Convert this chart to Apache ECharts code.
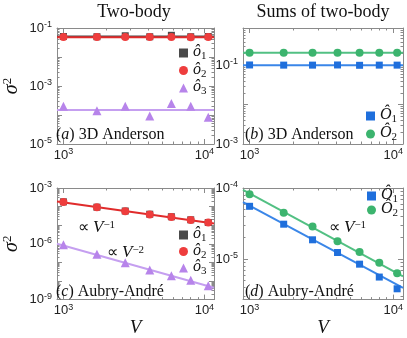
<!DOCTYPE html>
<html><head><meta charset="utf-8">
<script src="https://cdn.jsdelivr.net/npm/echarts@6/dist/echarts.min.js"></script>
<style>html,body{margin:0;padding:0;background:#fff}#c{width:407px;height:338px}</style>
</head><body><div id="c"></div>
<script>
// ---- data ----
const V = [1000, 1728, 2744, 4096, 5832, 8000, 10648];
const fitV = [900, 11700];
// (a) 3D Anderson, two-body
const a_o1 = [0.051, 0.050, 0.054, 0.050, 0.056, 0.050, 0.051];
const a_o2 = [0.049, 0.049, 0.049, 0.049, 0.049, 0.048, 0.049];
const a_o3 = [2.0e-4, 1.4e-4, 2.0e-4, 9.3e-5, 2.5e-4, 2.0e-4, 8.3e-5];
const a_fit1 = [0.051, 0.051];
const a_fit2 = [0.048, 0.048];
const a_fit3 = [1.48e-4, 1.48e-4];
// (b) 3D Anderson, sums of two-body
const b_O1 = [0.103, 0.102, 0.102, 0.103, 0.101, 0.102, 0.102];
const b_O2 = [0.212, 0.212, 0.210, 0.212, 0.212, 0.211, 0.211];
const b_fit1 = [0.102, 0.102];
const b_fit2 = [0.211, 0.211];
// (c) Aubry-André, two-body
const c_o1 = [1.8e-4, 9.3e-5, 5.8e-5, 3.9e-5, 2.85e-5, 1.95e-5, 1.4e-5];
const c_o2 = [1.78e-4, 9.1e-5, 5.6e-5, 3.8e-5, 2.75e-5, 1.9e-5, 1.38e-5];
const c_o3 = [8.9e-7, 2.75e-7, 9.6e-8, 3.9e-8, 1.9e-8, 1.1e-8, 5.6e-9];
const c_fit2 = [1.9e-4, 1.23e-5];
const c_fit3 = [1.0e-6, 4.3e-9];
// (d) Aubry-André, sums of two-body
const d_O1 = [5.53e-5, 3.1e-5, 1.87e-5, 1.24e-5, 8.5e-6, 5.6e-6, 3.83e-6];
const d_O2 = [8.2e-5, 4.49e-5, 2.88e-5, 1.79e-5, 1.26e-5, 8.9e-6, 6.35e-6];
const d_fit1 = [6.35e-5, 3.95e-6];
const d_fit2 = [9.4e-5, 5.73e-6];
// axis ranges
const xRange = [900, 11700];
const yRanges = [[1e-5, 0.1], [1e-3, 0.9], [1e-9, 1e-3], [2.7e-6, 1e-4]];
const yLabelRule = [[-1, 2], [-1, 2], [-3, 3], [0, 1]]; // [base, step]

// ---- styling ----
const C = {gray:'#4a4a4a', red:'#ee3d3d', redL:'#e02b2b', pur:'#b784ea', purL:'#c59ff0',
           blue:'#1f6fdc', blueL:'#3a86e8', green:'#3cb46e', greenL:'#52c083', frame:'#8a8a8a'};
const serif = 'Liberation Serif';
const sans = 'Liberation Sans';
const grids = [
  {left:54, top:28, width:160, height:116},
  {left:243, top:28, width:160, height:116},
  {left:54, top:188, width:160, height:114},
  {left:243, top:188, width:160, height:114}
];
const tickRich = {
  b:{fontSize:13, fontFamily:sans, color:'#222', lineHeight:16},
  s:{fontSize:9, fontFamily:sans, color:'#222', verticalAlign:'top', lineHeight:16}
};
function powFmt(base, step){
  return function(v){
    const e = Math.log10(v), r = Math.round(e);
    if (Math.abs(e - r) > 1e-6) return '';
    if ((((r - base) % step) + step) % step !== 0) return '';
    return '{b|10}{s|' + (r < 0 ? '-' + (-r) : r) + '}';
  };
}
// minor tick positions (2..9 x 10^n) inside a range
function minorVals(min, max){
  const out = [];
  for (let e = Math.floor(Math.log10(min)); e <= Math.ceil(Math.log10(max)); e++){
    for (let k = 2; k <= 9; k++){
      const v = k * Math.pow(10, e);
      if (v > min && v < max) out.push(v);
    }
  }
  return out;
}
const line = {lineStyle:{color:C.frame, width:1}};
function axisMajor(g, min, max, pos, showLabel, fmt){
  return {
    type:'log', logBase:10, gridIndex:g, min:min, max:max, position:pos,
    axisLine:line,
    axisTick:{show:true, inside:true, length:5, lineStyle:{color:C.frame}},
    splitLine:{show:false},
    axisLabel:{show:showLabel, formatter:fmt, rich:tickRich, margin:5, hideOverlap:false}
  };
}
function axisMinor(g, min, max, pos){
  return {
    type:'log', logBase:10, gridIndex:g, min:min, max:max, position:pos,
    axisLine:{show:false},
    axisTick:{show:true, inside:true, length:2.5, lineStyle:{color:C.frame}, customValues:minorVals(min, max)},
    splitLine:{show:false},
    axisLabel:{show:false}
  };
}
const xAxis = [], yAxis = [];
for (let g = 0; g < 4; g++){
  const xa = axisMajor(g, xRange[0], xRange[1], 'bottom', true, powFmt(0, 1));
  xa.axisLabel.margin = 3;
  if (g >= 2){
    xa.name = 'V'; xa.nameLocation = 'middle'; xa.nameGap = 8;
    xa.nameTextStyle = {fontFamily:serif, fontStyle:'italic', fontSize:19, color:'#111'};
  }
  xAxis.push(xa);
  const ya = axisMajor(g, yRanges[g][0], yRanges[g][1], 'left', true, powFmt(yLabelRule[g][0], yLabelRule[g][1]));
  if (g === 0 || g === 2){
    ya.name = '{s|σ}{p|2}'; ya.nameLocation = 'middle'; ya.nameGap = 34; ya.nameRotate = 90;
    ya.nameTextStyle = {rich:{
      s:{fontFamily:serif, fontStyle:'italic', fontSize:20, color:'#111', lineHeight:22},
      p:{fontFamily:serif, fontSize:13, color:'#111', verticalAlign:'top', lineHeight:22}
    }};
  }
  yAxis.push(ya);
}
// mirrored frame axes and minor ticks (after the primary ones so indices 0..3 stay primary)
for (let g = 0; g < 4; g++){
  xAxis.push(axisMajor(g, xRange[0], xRange[1], 'top', false));
  xAxis.push(axisMinor(g, xRange[0], xRange[1], 'bottom'));
  xAxis.push(axisMinor(g, xRange[0], xRange[1], 'top'));
  yAxis.push(axisMajor(g, yRanges[g][0], yRanges[g][1], 'right', false));
  yAxis.push(axisMinor(g, yRanges[g][0], yRanges[g][1], 'left'));
  yAxis.push(axisMinor(g, yRanges[g][0], yRanges[g][1], 'right'));
}

function pts(arr){ return V.map((v, i) => [v, arr[i]]); }
function fit(arr){ return fitV.map((v, i) => [v, arr[i]]); }
function sc(name, g, arr, symbol, size, color){
  return {name, type:'scatter', xAxisIndex:g, yAxisIndex:g, data:pts(arr),
          symbol, symbolSize:size, itemStyle:{color, opacity:1}, z:5, silent:true};
}
function ln(name, g, arr, color){
  return {name, type:'line', xAxisIndex:g, yAxisIndex:g, data:fit(arr), showSymbol:false,
          symbol:'none', lineStyle:{color, width:2}, z:3, silent:true};
}
const series = [
  ln('fa1', 0, a_fit1, C.gray), ln('fa2', 0, a_fit2, C.redL), ln('fa3', 0, a_fit3, C.purL),
  sc('a1', 0, a_o1, 'rect', 7, C.gray), sc('a2', 0, a_o2, 'circle', 8, C.red), sc('a3', 0, a_o3, 'triangle', 9, C.pur),
  ln('fb1', 1, b_fit1, C.blueL), ln('fb2', 1, b_fit2, C.greenL),
  sc('b1', 1, b_O1, 'rect', 7, C.blue), sc('b2', 1, b_O2, 'circle', 8, C.green),
  ln('fc2', 2, c_fit2, C.redL), ln('fc3', 2, c_fit3, C.purL),
  sc('c1', 2, c_o1, 'rect', 7, C.gray), sc('c2', 2, c_o2, 'circle', 8, C.red), sc('c3', 2, c_o3, 'triangle', 9, C.pur),
  ln('fd1', 3, d_fit1, C.blueL), ln('fd2', 3, d_fit2, C.greenL),
  sc('d1', 3, d_O1, 'rect', 7, C.blue), sc('d2', 3, d_O2, 'circle', 8, C.green)
];

const legRich = {
  o:{fontFamily:serif, fontStyle:'italic', fontSize:16, color:'#111', lineHeight:18, verticalAlign:'top'},
  n:{fontFamily:serif, fontSize:11, color:'#111', lineHeight:18, verticalAlign:'bottom'}
};
const legText = {a1:'{o|ô}{n|1}', a2:'{o|ô}{n|2}', a3:'{o|ô}{n|3}',
                 b1:'{o|Ô}{n|1}', b2:'{o|Ô}{n|2}', c1:'{o|ô}{n|1}', c2:'{o|ô}{n|2}', c3:'{o|ô}{n|3}',
                 d1:'{o|Ô}{n|1}', d2:'{o|Ô}{n|2}'};
function leg(data, left, top, gap){
  return {data, orient:'vertical', left, top, itemWidth:9, itemHeight:9, itemGap:gap, padding:0,
          selectedMode:false, formatter:n => legText[n], textStyle:{rich:legRich}};
}
const legend = [
  leg(['a1','a2','a3'], 179, 44, -0.5),
  leg(['b1','b2'], 366, 107, 0),
  leg(['c1','c2','c3'], 179, 226, -1.5),
  leg(['d1','d2'], 367, 187, -4)
];

const txtRich = {
  t:{fontFamily:serif, fontSize:16, color:'#111'},
  i:{fontFamily:serif, fontSize:16, fontStyle:'italic', color:'#111'},
  v:{fontFamily:serif, fontSize:17, fontStyle:'italic', color:'#111'},
  s:{fontFamily:serif, fontSize:11, color:'#111', verticalAlign:'top'}
};
function T(text, x, y, align, size){
  return {type:'text', x, y, silent:true, z:10,
          style:{text, align:align || 'left', verticalAlign:'middle', rich:txtRich,
                 fontFamily:serif, fontSize:size || 16, fill:'#111'}};
}
const graphic = [
  T('Two-body', 134, 12, 'center', 18),
  T('Sums of two-body', 323, 12, 'center', 18),
  T('{t|(}{i|a}{t|) 3D Anderson}', 56, 135),
  T('{t|(}{i|b}{t|) 3D Anderson}', 245, 135),
  T('{t|(}{i|c}{t|) Aubry-André}', 56, 292),
  T('{t|(}{i|d}{t|) Aubry-André}', 245, 292),
  T('{t|∝ }{v|V}{s|−1}', 78, 228),
  T('{t|∝ }{v|V}{s|−2}', 107, 253),
  T('{t|∝ }{v|V}{s|−1}', 329, 228)
];

const chart = echarts.init(document.getElementById('c'), null, {renderer:'canvas'});
chart.setOption({animation:false, backgroundColor:'#fff', grid:grids, xAxis, yAxis, series, legend, graphic});
</script></body></html>
